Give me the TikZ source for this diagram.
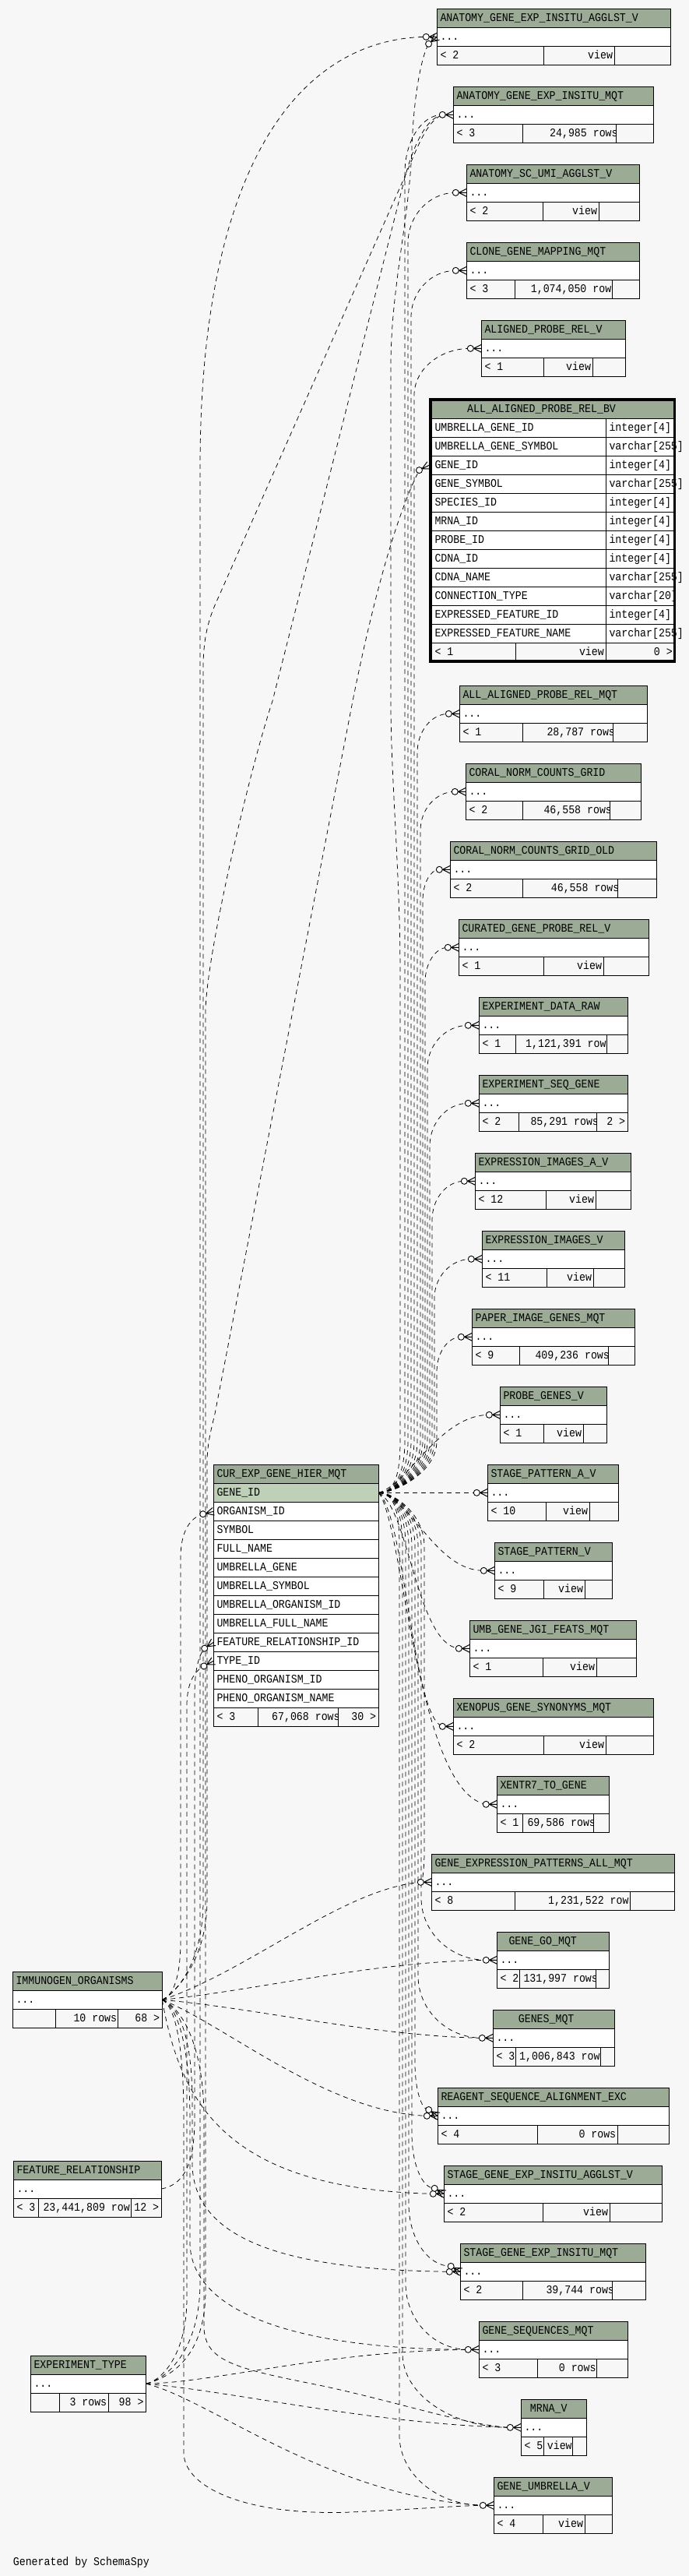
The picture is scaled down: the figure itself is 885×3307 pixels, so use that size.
\documentclass[tikz,border=0pt]{standalone}
\usepackage{fontspec}
\newfontfamily\schfont[FakeStretch=0.883]{Liberation Mono}
\usetikzlibrary{calc}
\definecolor{hdr}{HTML}{9BAB96}
\definecolor{selrow}{HTML}{BED1B8}
\definecolor{bgc}{HTML}{F7F7F7}
\tikzset{
  tline/.style={line width=1pt},
  txt/.style={font=\schfont\fontsize{15}{15}\selectfont, inner sep=0pt, anchor=base west},
  txtr/.style={txt, anchor=base east},
  fk/.style={line width=0.75pt, dash pattern=on 6pt off 5pt},
  crowl/.style={line width=1pt},
  crowc/.style={line width=0.9pt, fill=white},
}
\newcommand\tbl[8]{%
  \def\tId{#1}\def\tX{#2}\def\tY{#3}\def\tXX{#4}\def\tSa{#5}\def\tSb{#6}%
  \fill[hdr] (#2,#3) rectangle (#4,#3+24);
  \fill[white] (#2,#3+24) rectangle (#4,#3+48);
  \fill[bgc] (#2,#3+48) rectangle (#4,#3+72);
  \draw[tline] (#2,#3) rectangle (#4,#3+72)
     (#2,#3+24) -- (#4,#3+24) (#2,#3+48) -- (#4,#3+48)
     (#5,#3+48) -- (#5,#3+72) (#6,#3+48) -- (#6,#3+72);
  \node[txt] (#1-title) at (#2+#7,#3+16) {#8};
  \node[txt] (#1-dots) at (#2+4,#3+40) {...};
  \coordinate (#1) at (#2,#3+36);
  \coordinate (#1-c) at (#2-14,#3+36);
  \coordinate (#1-e) at (#4,#3+36);
}
\newcommand\tft[4]{%
  \ifx&#1&\else\node[txt] (\tId-left) at (\tX+4,\tY+64) {#1};\fi
  \begin{scope}
    \clip (\tSa,\tY+48) rectangle (\tSb,\tY+72);
    \node[txt] (\tId-mid) at (#2,\tY+64) {#3};
  \end{scope}
  \ifx&#4&\else\node[txtr] (\tId-right) at (\tXX-3,\tY+64) {#4};\fi
}
\newcommand\tvw[1]{\tft{#1}{\tSb-34.3}{view}{}}
\newcommand\crow[2]{%
  \draw[crowl] ($(#1)+(#2+180:10)$) -- ($(#1)+(#2+90:5)$)
    ($(#1)+(#2+180:10)$) -- ($(#1)+(#2-90:5)$)
    ($(#1)+(#2+180:10)$) -- (#1);
  \draw[crowc] ($(#1)+(#2+180:14)$) circle[radius=4];
}
\newcommand\edgeup[5]{%
  \draw[fk] (cg) .. controls (508,1916.3) and (#2,1890) .. (#2,1850) -- (#2,#4+#5)
    .. controls (#2,#4+0.45*#5) and ({#2+0.45*(#3-#2)},#4) .. (#1);}
\newcommand\edgedown[5]{%
  \draw[fk] (cg) .. controls (508,1916.3) and (#2,1945) .. (#2,1985) -- (#2,#4-#5)
    .. controls (#2,#4-0.45*#5) and ({#2+0.45*(#3-#2)},#4) .. (#1);}
\begin{document}
\catcode`\_=12
\begin{tikzpicture}[x=1pt,y=-1pt]
\fill[bgc] (0,0) rectangle (885,3307);
\useasboundingbox (0,0) rectangle (885,3307);

% ---------- right tables ----------
\tbl{agea}{561.3}{11.3}{861.3}{698.3}{789.3}{4}{ANATOMY_GENE_EXP_INSITU_AGGLST_V}\tvw{< 2}
\tbl{agem}{582.3}{111.3}{839.3}{671.3}{791.3}{4}{ANATOMY_GENE_EXP_INSITU_MQT}\tft{< 3}{706}{24,985 rows}{}
\tbl{asua}{599.3}{211.3}{821.3}{697.3}{769.3}{4}{ANATOMY_SC_UMI_AGGLST_V}\tvw{< 2}
\tbl{cgmm}{599.3}{311.3}{821.3}{661.7}{786.3}{4}{CLONE_GENE_MAPPING_MQT}\tft{< 3}{681.7}{1,074,050 rows}{}
\tbl{aprv}{618.3}{411.3}{803.3}{698.3}{761.3}{4}{ALIGNED_PROBE_REL_V}\tvw{< 1}
\tbl{aaprm}{590.3}{880.3}{831.3}{671.3}{787.3}{4}{ALL_ALIGNED_PROBE_REL_MQT}\tft{< 1}{702.3}{28,787 rows}{}
\tbl{cncg}{598.3}{980.3}{823.3}{671.3}{783.3}{4}{CORAL_NORM_COUNTS_GRID}\tft{< 2}{698.3}{46,558 rows}{}
\tbl{cncgo}{578.3}{1080.3}{843.3}{671.3}{793.3}{4}{CORAL_NORM_COUNTS_GRID_OLD}\tft{< 2}{707.7}{46,558 rows}{}
\tbl{cgprv}{589.3}{1180.3}{833.3}{698.3}{775.3}{4}{CURATED_GENE_PROBE_REL_V}\tvw{< 1}
\tbl{edr}{615.3}{1280.3}{806.3}{662.3}{779.3}{4}{EXPERIMENT_DATA_RAW}\tft{< 1}{675}{1,121,391 rows}{}
\tbl{esg}{615.3}{1380.3}{806.3}{666.3}{766.3}{4}{EXPERIMENT_SEQ_GENE}\tft{< 2}{681.3}{85,291 rows}{2 >}
\tbl{eiav}{610.3}{1480.3}{810.3}{701.3}{765.3}{4}{EXPRESSION_IMAGES_A_V}\tvw{< 12}
\tbl{eiv}{619.3}{1580.3}{802.3}{702.3}{762.3}{4}{EXPRESSION_IMAGES_V}\tvw{< 11}
\tbl{pigm}{606.3}{1680.3}{815.3}{667.3}{781.3}{4}{PAPER_IMAGE_GENES_MQT}\tft{< 9}{687.3}{409,236 rows}{}
\tbl{pgv}{642.3}{1780.3}{779.3}{698.3}{749.3}{4}{PROBE_GENES_V}\tvw{< 1}
\tbl{spav}{626.3}{1880.3}{794.3}{701.3}{757.3}{4}{STAGE_PATTERN_A_V}\tvw{< 10}
\tbl{spv}{635.3}{1980.3}{786.3}{698.3}{751.3}{4}{STAGE_PATTERN_V}\tvw{< 9}
\tbl{ugjf}{603.3}{2080.3}{817.3}{697.3}{766.3}{4}{UMB_GENE_JGI_FEATS_MQT}\tvw{< 1}
\tbl{xgsm}{582.3}{2180.3}{839.3}{698.3}{778.3}{4}{XENOPUS_GENE_SYNONYMS_MQT}\tvw{< 2}
\tbl{x7tg}{638.3}{2280.3}{782.3}{671.3}{762.3}{4}{XENTR7_TO_GENE}\tft{< 1}{677.3}{69,586 rows}{}
\tbl{gepam}{554.3}{2380.3}{866.3}{661.3}{809.3}{4}{GENE_EXPRESSION_PATTERNS_ALL_MQT}\tft{< 8}{704}{1,231,522 rows}{}
\tbl{ggm}{638.3}{2480.3}{782.3}{667.3}{765.3}{15}{GENE_GO_MQT}\tft{< 2}{672.3}{131,997 rows}{}
\tbl{gm}{633.3}{2580.3}{789.3}{662.3}{771.3}{32.4}{GENES_MQT}\tft{< 3}{667}{1,006,843 rows}{}
\tbl{rsae}{562.3}{2680.3}{859.3}{690.3}{793.3}{4}{REAGENT_SEQUENCE_ALIGNMENT_EXC}\tft{< 4}{743.3}{0 rows}{}
\tbl{sgeia}{570.3}{2780.3}{850.3}{697.3}{783.3}{4}{STAGE_GENE_EXP_INSITU_AGGLST_V}\tvw{< 2}
\tbl{sgeim}{591.3}{2880.3}{829.3}{671.3}{786.3}{4}{STAGE_GENE_EXP_INSITU_MQT}\tft{< 2}{701.3}{39,744 rows}{}
\tbl{gsm}{615.3}{2980.3}{806.3}{690.3}{766.3}{4}{GENE_SEQUENCES_MQT}\tft{< 3}{717.7}{0 rows}{}
\tbl{mrna}{669.3}{3080.3}{753.3}{698.3}{735.3}{11.4}{MRNA_V}\tft{< 5}{702.7}{view}{}
\tbl{guv}{634.3}{3180.3}{786.3}{697.3}{751.3}{4}{GENE_UMBRELLA_V}\tvw{< 4}

% ---------- left tables ----------
\tbl{io}{16.3}{2531.3}{208.3}{71.3}{151.3}{4}{IMMUNOGEN_ORGANISMS}\tft{}{94.3}{10 rows}{68 >}
\tbl{fr}{17.3}{2774}{207.3}{49.3}{168.7}{4}{FEATURE_RELATIONSHIP}\tft{< 3}{55.3}{23,441,809 rows}{12 >}
\tbl{et}{39.3}{3024.2}{187.7}{76.3}{139.3}{4}{EXPERIMENT_TYPE}\tft{}{89.3}{3 rows}{98 >}

% ---------- ALL_ALIGNED_PROBE_REL_BV ----------
\fill[hdr] (554.7,513.3) rectangle (866,537.3);
\fill[white] (554.7,537.3) rectangle (866,825.3);
\fill[bgc] (554.7,825.3) rectangle (866,849.3);
\foreach \k in {0,...,12} \draw[tline] (554.7,{537.3+24*\k}) -- (866,{537.3+24*\k});
\draw[tline] (778.7,537.3) -- (778.7,849.3) (662.3,825.3) -- (662.3,849.3);
\node[txt] (bv-title) at (600,529.3) {ALL_ALIGNED_PROBE_REL_BV};
\foreach \cn/\ct [count=\i] in {UMBRELLA_GENE_ID/integer[4], UMBRELLA_GENE_SYMBOL/varchar[255],
  GENE_ID/integer[4], GENE_SYMBOL/varchar[255], SPECIES_ID/integer[4], MRNA_ID/integer[4],
  PROBE_ID/integer[4], CDNA_ID/integer[4], CDNA_NAME/varchar[255], CONNECTION_TYPE/varchar[20],
  EXPRESSED_FEATURE_ID/integer[4], EXPRESSED_FEATURE_NAME/varchar[255]}
{ \node[txt] (bv-n\i) at (558.3,{537.3+24*\i-8}) {\cn};
  \node[txt] (bv-t\i) at (782.3,{537.3+24*\i-8}) {\ct}; }
\node[txt] (bv-left) at (558.3,841.3) {< 1};
\node[txtr] (bv-mid) at (776,841.3) {view};
\node[txtr] (bv-right) at (864,841.3) {0 >};
\draw[line width=3.6pt] (552.8,512.8) rectangle (866.5,848.9);
\coordinate (bv) at (551,597.3);
\coordinate (bv-c) at ($(bv)+(153.4:14)$);

% ---------- CUR_EXP_GENE_HIER_MQT ----------
\fill[hdr] (274.3,1880.3) rectangle (486.3,1904.3);
\fill[selrow] (274.3,1904.3) rectangle (486.3,1928.3);
\fill[white] (274.3,1928.3) rectangle (486.3,2192.3);
\fill[bgc] (274.3,2192.3) rectangle (486.3,2216.3);
\draw[tline] (274.3,1880.3) rectangle (486.3,2216.3);
\foreach \k in {0,...,12} \draw[tline] (274.3,{1904.3+24*\k}) -- (486.3,{1904.3+24*\k});
\draw[tline] (331.3,2192.3) -- (331.3,2216.3) (434.7,2192.3) -- (434.7,2216.3);
\node[txt] (cur-title) at (278.3,1896.3) {CUR_EXP_GENE_HIER_MQT};
\foreach \cn [count=\i] in {GENE_ID, ORGANISM_ID, SYMBOL, FULL_NAME, UMBRELLA_GENE, UMBRELLA_SYMBOL,
  UMBRELLA_ORGANISM_ID, UMBRELLA_FULL_NAME, FEATURE_RELATIONSHIP_ID, TYPE_ID, PHENO_ORGANISM_ID, PHENO_ORGANISM_NAME}
{ \node[txt] (cur-n\i) at (278.3,{1904.3+24*\i-8}) {\cn}; }
\node[txt] (cur-left) at (278.3,2208.3) {< 3};
\begin{scope}
  \clip (331.3,2192.3) rectangle (434.7,2216.3);
  \node[txt] (cur-mid) at (349,2208.3) {67,068 rows};
\end{scope}
\node[txtr] (cur-right) at (483.3,2208.3) {30 >};
\coordinate (cg) at (486.3,1916.3);
\coordinate (cur-org) at (274.3,1940.3);
\coordinate (cur-fr) at (274.3,2108.3);
\coordinate (cur-type) at (274.3,2132.3);
\coordinate (cur-org-c) at ($(cur-org)+(166:14)$);
\coordinate (cur-fr-c) at ($(cur-fr)+(146:14)$);
\coordinate (cur-type-c) at ($(cur-type)+(152:14)$);
\coordinate (agea-c2) at ($(agea)+(140:14)$);
\coordinate (rsae-c2) at ($(rsae)+(214:14)$);
\coordinate (sgeia-c2) at ($(sgeia)+(210:14)$);
\coordinate (sgeim-c2) at ($(sgeim)+(210:14)$);

\node[txt] (gen) at (16.7,3293.5) {Generated by SchemaSpy};

% ---------- edges from CUR_EXP_GENE_HIER_MQT.GENE_ID ----------
\draw[fk] (cg) .. controls (508,1916.3) and (514,1890) .. (514,1850) -- (514,1250)
  .. controls (514,1120) and (502,1000) .. (502,900) -- (502,470)
  .. controls (502,370) and (526,280) .. (529,190) .. controls (531,130) and (540,75) .. (agea-c2);
\edgeup{agem-c}{520}{568.3}{147.3}{75}
\edgeup{asua-c}{524}{585.3}{247.3}{65}
\edgeup{cgmm-c}{528}{585.3}{347.3}{60}
\edgeup{aprv-c}{532}{604.3}{447.3}{60}
\edgeup{aaprm-c}{536}{576.3}{916.3}{50}
\edgeup{cncg-c}{540}{584.3}{1016.3}{50}
\edgeup{cncgo-c}{543}{564.3}{1116.3}{40}
\edgeup{cgprv-c}{546}{575.3}{1216.3}{45}
\edgeup{edr-c}{549}{601.3}{1316.3}{55}
\edgeup{esg-c}{552}{601.3}{1416.3}{55}
\edgeup{eiav-c}{555}{596.3}{1516.3}{50}
\edgeup{eiv-c}{558}{605.3}{1616.3}{50}
\edgeup{pigm-c}{561}{592.3}{1716.3}{45}
\draw[fk] (cg) .. controls (525,1905) and (565,1816.3) .. (pgv-c);
\draw[fk] (cg) -- (spav-c);
\draw[fk] (cg) .. controls (530,1925) and (560,2016.3) .. (spv-c);
\draw[fk] (cg) .. controls (525,1935) and (535,2110) .. (ugjf-c);
\draw[fk] (cg) .. controls (520,1945) and (530,2205) .. (xgsm-c);
\draw[fk] (cg) .. controls (518,1955) and (535,2300) .. (x7tg-c);
\edgedown{gepam-c}{545}{540.3}{2416.3}{40}
\edgedown{ggm-c}{541}{624.3}{2516.3}{80}
\edgedown{gm-c}{537}{619.3}{2616.3}{80}
\edgedown{rsae-c2}{533}{550.7}{2708.5}{60}
\edgedown{sgeia-c2}{529}{558.2}{2809.3}{70}
\edgedown{sgeim-c2}{525}{579.2}{2909.3}{80}
\edgedown{gsm-c}{521}{601.3}{3016.3}{85}
\edgedown{mrna-c}{517}{655.3}{3116.3}{95}
\edgedown{guv-c}{513}{620.3}{3216.3}{90}

% ---------- edges from IMMUNOGEN_ORGANISMS ----------
\draw[fk] (io-e) .. controls (222,2562) and (232,2540) .. (232,2490) -- (232,2000)
  .. controls (232,1965) and (245,1948) .. (cur-org-c);
\draw[fk] (io-e) .. controls (225,2560) and (261,2520) .. (261,2440) -- (261,860)
  .. controls (261,825) and (265,800) .. (280,768) -- (522,222)
  .. controls (535,192) and (548,155) .. (agem-c);
\draw[fk] (io-e) .. controls (226,2558) and (266,2515) .. (266,2440) -- (266,1880)
  .. controls (266,1855) and (270,1840) .. (276,1815) -- (453,900)
  .. controls (475,790) and (505,670) .. (bv-c);
\draw[fk] (io-e) .. controls (320,2530) and (440,2425) .. (gepam-c);
\draw[fk] (io-e) .. controls (330,2555) and (480,2518) .. (ggm-c);
\draw[fk] (io-e) .. controls (330,2578) and (480,2614) .. (gm-c);
\draw[fk] (io-e) .. controls (290,2600) and (420,2712) .. (rsae-c);
\draw[fk] (io-e) .. controls (232,2700) and (290,2810) .. (sgeia-c);
\draw[fk] (io-e) .. controls (228,2575) and (247,2610) .. (247,2700) -- (247,2780)
  .. controls (250,2880) and (380,2914) .. (sgeim-c);
\draw[fk] (io-e) .. controls (226,2575) and (244,2620) .. (244,2720) -- (244,2880)
  .. controls (246,2975) and (400,3016) .. (gsm-c);
\draw[fk] (io-e) .. controls (230,2575) and (262,2620) .. (262,2720) -- (262,2990)
  .. controls (265,3030) and (300,3040) .. (400,3060) .. controls (500,3080) and (600,3114) .. (mrna-c);
\draw[fk] (io-e) .. controls (224,2575) and (236,2620) .. (236,2720) -- (236,3150)
  .. controls (238,3195) and (320,3230) .. (450,3225) .. controls (540,3221) and (580,3217) .. (guv-c);

% ---------- edges from FEATURE_RELATIONSHIP ----------
\draw[fk] (fr-e) .. controls (235,2805) and (250,2780) .. (250,2720) -- (250,2175)
  .. controls (250,2145) and (255,2125) .. (cur-fr-c);

% ---------- edges from EXPERIMENT_TYPE ----------
\draw[fk] (et-e) .. controls (210,3055) and (240,3020) .. (240,2950) -- (240,2190)
  .. controls (240,2160) and (250,2145) .. (cur-type-c);
\draw[fk] (et-e) .. controls (220,3052) and (257,3010) .. (257,2930) -- (257,600)
  .. controls (257,220) and (380,50) .. (agea-c);
\draw[fk] (et-e) .. controls (225,3050) and (264,3020) .. (264,2940) -- (264,1300)
  .. controls (264,1230) and (320,990) .. (350,900) -- (518,236)
  .. controls (528,195) and (545,152) .. (agem-c);
\draw[fk] (et-e) .. controls (280,3058) and (420,3018) .. (gsm-c);
\draw[fk] (et-e) .. controls (300,3070) and (480,3112) .. (mrna-c);
\draw[fk] (et-e) .. controls (270,3080) and (420,3205) .. (guv-c);

% ---------- crow's feet ----------
\foreach \tn in {agea,agem,asua,cgmm,aprv,aaprm,cncg,cncgo,cgprv,edr,esg,eiav,eiv,pigm,pgv,spav,spv,ugjf,xgsm,x7tg,gepam,ggm,gm,rsae,sgeia,sgeim,gsm,mrna,guv}
  {\crow{\tn}{0}}
\crow{agea}{-40}
\crow{rsae}{34}
\crow{sgeia}{30}
\crow{sgeim}{30}
\crow{bv}{-26.6}
\crow{cur-org}{-14}
\crow{cur-fr}{-34}
\crow{cur-type}{-28}
\end{tikzpicture}
\end{document}
